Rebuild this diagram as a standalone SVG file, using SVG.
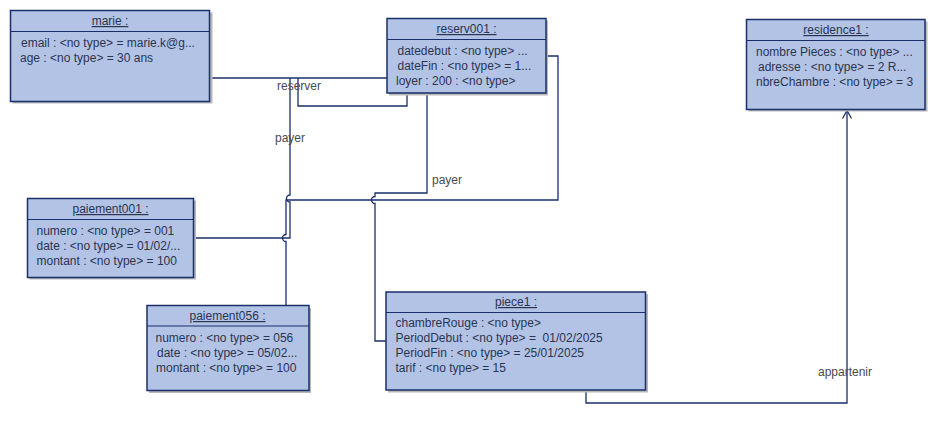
<svg xmlns="http://www.w3.org/2000/svg" width="937" height="424" viewBox="0 0 937 424">
<defs>
<style>
.box{fill:#B3C3E6;stroke:#1A2F6A;stroke-width:1.5}
.shadow{fill:#B8B8B8}
.sep{stroke:#1A2F6A;stroke-width:1.2}
.title{font-family:"Liberation Sans",Arial,sans-serif;font-size:12px;fill:#2B3550;text-anchor:middle;text-decoration:underline}
.attr{font-family:"Liberation Sans",Arial,sans-serif;font-size:12px;fill:#2B3550}
.lbl{font-family:"Liberation Sans",Arial,sans-serif;font-size:12px;fill:#4A4A52}
.conn{fill:none;stroke:#1A2F6A;stroke-width:1.3}
</style>
</defs>
<rect width="937" height="424" fill="#FFFFFF"/>
<g id="connectors">
<path class="conn" d="M209.5,78 H387"/>
<path class="conn" d="M298,78 V106 H407 V93"/>
<path class="conn" d="M290,78 V195 A3.5,3.5 0 0 0 290,202 V238 H193.5"/>
<path class="conn" d="M546,56 H558 V200 H286 V234.5 A3.5,3.5 0 0 0 286,241.5 V305.5"/>
<path class="conn" d="M427,93 V193 H375 V196.5 A3.5,3.5 0 0 0 375,203.5 V341 H386"/>
<path class="conn" d="M586,390 V403 H847 V110.5"/>
<path class="conn" d="M842.5,118.5 L847,110.5 L851.5,118.5"/>
<text class="lbl" x="277" y="90">reserver</text>
<text class="lbl" x="275" y="142">payer</text>
<text class="lbl" x="432" y="184">payer</text>
<text class="lbl" x="818" y="376">appartenir</text>
</g>
<g id="marie">
<rect class="shadow" x="12.5" y="12.5" width="200" height="91"/>
<rect class="box" x="10.5" y="10.5" width="199" height="91"/>
<line class="sep" x1="10.5" y1="31.5" x2="209.5" y2="31.5"/>
<text class="title" x="110" y="25">marie :</text>
<text class="attr" x="21" y="47">email : &lt;no type&gt; = marie.k@g...</text>
<text class="attr" x="20" y="62">age : &lt;no type&gt; = 30 ans</text>
</g>
<g id="reserv001">
<rect class="shadow" x="389" y="20.5" width="159" height="75"/>
<rect class="box" x="387" y="18.5" width="159" height="74.5"/>
<line class="sep" x1="387" y1="39.5" x2="546" y2="39.5"/>
<text class="title" x="466.5" y="33">reserv001 :</text>
<text class="attr" x="397.5" y="55">datedebut : &lt;no type&gt; ...</text>
<text class="attr" x="397.5" y="70">dateFin : &lt;no type&gt; = 1...</text>
<text class="attr" x="396" y="85">loyer : 200 : &lt;no type&gt;</text>
</g>
<g id="residence1">
<rect class="shadow" x="748.5" y="21.5" width="179" height="90"/>
<rect class="box" x="746.5" y="19.5" width="178.5" height="90"/>
<line class="sep" x1="746.5" y1="40.5" x2="925" y2="40.5"/>
<text class="title" x="836" y="34">residence1 :</text>
<text class="attr" x="756" y="56">nombre Pieces : &lt;no type&gt; ...</text>
<text class="attr" x="758" y="71">adresse : &lt;no type&gt; = 2 R...</text>
<text class="attr" x="756" y="86">nbreChambre : &lt;no type&gt; = 3</text>
</g>
<g id="paiement001">
<rect class="shadow" x="29.5" y="200.5" width="166.5" height="79"/>
<rect class="box" x="27.5" y="198.5" width="166" height="79"/>
<line class="sep" x1="27.5" y1="219.5" x2="193.5" y2="219.5"/>
<text class="title" x="110.5" y="213">paiement001 :</text>
<text class="attr" x="36.5" y="235">numero : &lt;no type&gt; = 001</text>
<text class="attr" x="36.5" y="250">date : &lt;no type&gt; = 01/02/...</text>
<text class="attr" x="36.5" y="265">montant : &lt;no type&gt; = 100</text>
</g>
<g id="paiement056">
<rect class="shadow" x="149" y="308" width="162" height="85"/>
<rect class="box" x="147" y="305.5" width="162" height="85"/>
<line class="sep" x1="147" y1="326" x2="309" y2="326"/>
<text class="title" x="227.5" y="320">paiement056 :</text>
<text class="attr" x="155.5" y="342">numero : &lt;no type&gt; = 056</text>
<text class="attr" x="157" y="357">date : &lt;no type&gt; = 05/02...</text>
<text class="attr" x="156" y="372">montant : &lt;no type&gt; = 100</text>
</g>
<g id="piece1">
<rect class="shadow" x="388" y="294" width="260" height="98.5"/>
<rect class="box" x="386" y="292" width="259.5" height="98"/>
<line class="sep" x1="386" y1="312.5" x2="645.5" y2="312.5"/>
<text class="title" x="516" y="306">piece1 :</text>
<text class="attr" x="395.5" y="327">chambreRouge : &lt;no type&gt;</text>
<text class="attr" x="395.5" y="342" xml:space="preserve">PeriodDebut : &lt;no type&gt; =  01/02/2025</text>
<text class="attr" x="395.5" y="357">PeriodFin : &lt;no type&gt; = 25/01/2025</text>
<text class="attr" x="395.5" y="372">tarif : &lt;no type&gt; = 15</text>
</g>
</svg>
